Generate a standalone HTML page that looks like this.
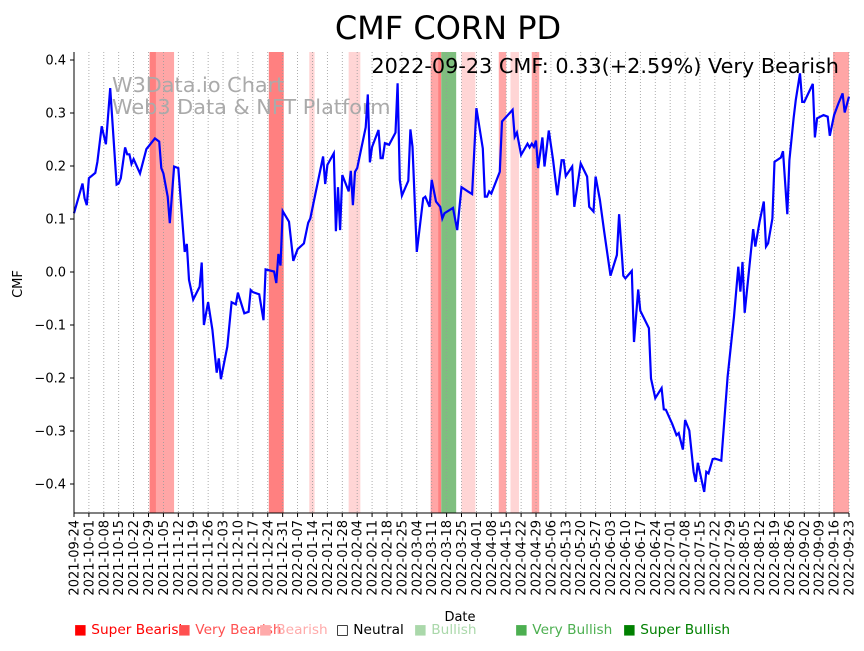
<!DOCTYPE html>
<html><head><meta charset="utf-8"><style>
body{margin:0;background:#fff;font-family:"Liberation Sans","DejaVu Sans",sans-serif;}
svg text{font-family:"DejaVu Sans","Liberation Sans",sans-serif;}
</style></head><body>
<svg id="chart" width="864" height="646" xmlns="http://www.w3.org/2000/svg">
<text x="448" y="39" font-size="32" text-anchor="middle">CMF CORN PD</text>
<g id="bands"></g>
<g id="grid"></g>
<text x="112" y="92" font-size="20.8" fill="#aaa">W3Data.io Chart</text>
<text x="112" y="114" font-size="20.8" fill="#aaa">Web3 Data &amp; NFT Platform</text>
<path id="line" fill="none" stroke="#0000ff" stroke-width="2.2"/>
<text x="839" y="73" font-size="20.8" text-anchor="end">2022-09-23 CMF: 0.33(+2.59%) Very Bearish</text>
<g id="axes"></g>
<text x="460" y="621" font-size="13" text-anchor="middle">Date</text>
<text transform="translate(22,284) rotate(-90)" font-size="13" text-anchor="middle">CMF</text>
<g font-size="13.7">
<text x="74" y="634" fill="#ff0000">■ Super Bearish</text>
<text x="178" y="634" fill="#ff5050">■ Very Bearish</text>
<text x="259" y="634" fill="#ffaaaa">■ Bearish</text>
<text x="336" y="634" fill="#000">□ Neutral</text>
<text x="414" y="634" fill="#aad8aa">■ Bullish</text>
<text x="515" y="634" fill="#4caf50">■ Very Bullish</text>
<text x="623" y="634" fill="#008000">■ Super Bullish</text>
</g>
</svg>
<script>
// days since 2021-09-24
const days=[0,4,5,6,7,10,11,13,15,17,20,21,22,24,25,26,27,28,31,34,38,40,41,42,44,45,47,49,52,53,54,56,59,60,61,63,65,67,68,69,72,74,76,77,80,82,83,84,87,89,90,94,95,96,97,98,101,103,105,108,110,111,117,118,119,122,123,124,125,126,129,130,131,132,133,137,138,139,140,143,144,145,146,148,151,152,153,154,157,158,159,161,164,165,167,168,170,172,173,174,178,180,182,185,187,189,192,193,194,195,196,200,201,206,207,208,210,213,214,215,216,217,218,220,221,223,225,227,229,230,231,234,235,238,241,242,244,245,247,249,252,255,256,258,259,262,263,265,266,270,271,273,276,277,278,281,283,284,286,287,289,291,292,293,296,297,298,300,301,304,307,310,312,313,314,315,317,319,320,322,324,325,326,328,329,332,333,335,336,338,339,341,342,343,347,348,349,352,354,355,357,359,361,362,364];
const cmf=[0.111,0.167,0.139,0.126,0.177,0.187,0.208,0.275,0.241,0.347,0.165,0.167,0.177,0.235,0.222,0.222,0.204,0.213,0.186,0.232,0.252,0.246,0.196,0.186,0.142,0.092,0.199,0.196,0.038,0.053,-0.015,-0.052,-0.028,0.018,-0.100,-0.057,-0.109,-0.190,-0.163,-0.202,-0.141,-0.057,-0.061,-0.039,-0.078,-0.075,-0.034,-0.038,-0.042,-0.091,0.005,0.001,-0.021,0.034,0.012,0.115,0.095,0.021,0.043,0.054,0.093,0.101,0.218,0.166,0.202,0.224,0.077,0.160,0.079,0.183,0.152,0.191,0.126,0.189,0.196,0.273,0.335,0.207,0.236,0.268,0.215,0.215,0.243,0.240,0.263,0.356,0.174,0.144,0.172,0.269,0.236,0.038,0.139,0.142,0.123,0.174,0.133,0.123,0.101,0.111,0.121,0.079,0.160,0.152,0.147,0.309,0.233,0.142,0.142,0.152,0.148,0.189,0.284,0.306,0.255,0.263,0.221,0.242,0.235,0.242,0.236,0.248,0.196,0.254,0.199,0.267,0.211,0.145,0.211,0.211,0.181,0.199,0.123,0.205,0.180,0.123,0.114,0.180,0.136,0.076,-0.007,0.032,0.109,-0.007,-0.012,0.002,-0.132,-0.033,-0.073,-0.106,-0.201,-0.238,-0.219,-0.259,-0.260,-0.287,-0.308,-0.304,-0.335,-0.279,-0.299,-0.377,-0.396,-0.360,-0.415,-0.377,-0.380,-0.353,-0.352,-0.356,-0.198,-0.084,0.010,-0.037,0.019,-0.077,0.001,0.081,0.048,0.095,0.133,0.048,0.054,0.101,0.208,0.216,0.228,0.109,0.211,0.290,0.325,0.375,0.321,0.321,0.355,0.254,0.290,0.296,0.293,0.257,0.296,0.318,0.337,0.301,0.331];
const bandStart=[35.5,38.5,91.5,110.5,129,167.5,171,172.5,182,199.5,205,215,356.5];
const bandEnd=[38.5,47,98.5,113,134.5,171,172.5,179.5,188.5,203,209,218.5,364];
const bandType=['super-bearish','very-bearish','super-bearish','bearish','bearish','very-bearish','super-bearish','very-bullish','bearish','very-bearish','bearish','very-bearish','very-bearish'];
const yTicks=[0.4,0.3,0.2,0.1,0.0,-0.1,-0.2,-0.3,-0.4];
const yTickLabels=['0.4','0.3','0.2','0.1','0.0','−0.1','−0.2','−0.3','−0.4'];
const startDate='2021-09-24';

const X0=74,X1=849,Y0=52,Y1=513,NDAYS=364;
const xs=d=>X0+(X1-X0)*d/NDAYS;
const ys=v=>272-v*530;
const NS='http://www.w3.org/2000/svg';
function mk(tag,attrs,parent){const e=document.createElementNS(NS,tag);for(const k in attrs)e.setAttribute(k,attrs[k]);parent.appendChild(e);return e;}
const colors={'super-bearish':'#ff8080','very-bearish':'#ffa6a6','bearish':'#ffd5d5','very-bullish':'#7fbf7f'};
const bg=document.getElementById('bands');
bandStart.forEach((s,i)=>{
  const r=mk('rect',{x:xs(s),y:Y0,width:xs(bandEnd[i])-xs(s),height:Y1-Y0,fill:colors[bandType[i]]},bg);
  
  
});
const grid=document.getElementById('grid'),axes=document.getElementById('axes');
const base=new Date(startDate+'T00:00:00Z');
for(let d=0;d<=NDAYS;d+=7){
  const x=xs(d);
  const g=mk('line',{x1:x,x2:x,y1:Y0,y2:Y1,stroke:'#999','stroke-width':0.8,'stroke-dasharray':'1,2'},grid);
  
  
  const t=mk('line',{x1:x,x2:x,y1:Y1,y2:Y1+4,stroke:'#000','stroke-width':1},axes);
  
  
  const dt=new Date(base.getTime()+d*86400000);
  const lab=mk('text',{transform:`translate(${x+4.5},${Y1+7}) rotate(-90)`,'font-size':13,'text-anchor':'end'},axes);
  lab.textContent=dt.toISOString().slice(0,10);
  
  
}
yTicks.forEach((v,i)=>{
  const y=ys(v);
  const t=mk('line',{x1:X0-4,x2:X0,y1:y,y2:y,stroke:'#000','stroke-width':1},axes);
  
  
  const lab=mk('text',{x:X0-8,y:y+4.5,'font-size':13,'text-anchor':'end'},axes);
  lab.textContent=yTickLabels[i];
  
  
});
const sp1=mk('line',{x1:X0,x2:X0,y1:Y0,y2:Y1,stroke:'#000','stroke-width':1},axes);


const sp2=mk('line',{x1:X0,x2:X1,y1:Y1,y2:Y1,stroke:'#000','stroke-width':1},axes);


document.getElementById('line').setAttribute('d',days.map((d,i)=>(i?'L':'M')+xs(d).toFixed(1)+','+ys(cmf[i]).toFixed(1)).join(''));
</script>
</body></html>
